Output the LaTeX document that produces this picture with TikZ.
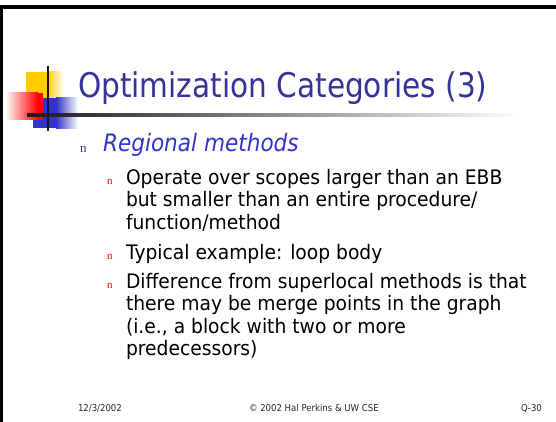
\documentclass[tikz,border=0pt]{standalone}
\usepackage{fontspec}
\setmainfont{DejaVu Sans}
\newfontfamily\titlefont[FakeStretch=0.87]{DejaVu Sans}
\newfontfamily\bodyfont[FakeStretch=0.935]{DejaVu Sans}
\newfontfamily\regfont[FakeStretch=0.90]{DejaVu Sans}
\newfontfamily\footfont[FakeStretch=0.90]{DejaVu Sans}
\newfontfamily\bulfont{Liberation Serif}
\definecolor{titleblue}{HTML}{333399}
\definecolor{regblue}{HTML}{3333CC}
\definecolor{slideyellow}{HTML}{FFCC00}
\definecolor{slidered}{HTML}{FF0000}
\definecolor{slideblue}{HTML}{3333CC}
\definecolor{foottext}{HTML}{262626}
\tikzset{
  txt/.style={inner sep=0pt, outer sep=0pt, anchor=base west},
  titletxt/.style={txt, text=titleblue, font=\titlefont\fontsize{34}{40}\selectfont},
  regtxt/.style={txt, text=regblue, font=\regfont\itshape\fontsize{24}{28}\selectfont},
  bodytxt/.style={txt, text=black, font=\bodyfont\fontsize{20}{22.4}\selectfont},
  bulone/.style={txt, text=titleblue, font=\bulfont\fontsize{13}{15}\selectfont},
  bultwo/.style={txt, text=slidered, font=\bulfont\fontsize{11}{13}\selectfont},
  foottxt/.style={txt, text=foottext, font=\footfont\fontsize{9.5}{11}\selectfont},
}
\begin{document}
\begin{tikzpicture}[x=1pt,y=-1pt]
\useasboundingbox (0,0) rectangle (556,422);
% frame
\fill[black] (0,5.3) rectangle (556,8.7);
\fill[black] (0,5.3) rectangle (3.2,422);
% decoration
\fill[slideyellow] (26,72) rectangle (47,98);
\shade[left color=slideyellow, right color=white] (47,72) rectangle (64,98);
\fill[slideblue] (33,98) rectangle (56,128.5);
\shade[left color=slideblue, right color=white] (56,98) rectangle (78,128.5);
\shade[left color=red!6, right color=slidered] (7,93) rectangle (38,120);
\fill[slidered] (38,93) rectangle (43,120);
\shade[left color=black!90, right color=white] (27,114) rectangle (522,116.2);
\fill[black!90] (47.3,66) rectangle (49.4,131);
% title
\node[titletxt] (title) at (78,98) {Optimization Categories (3)};
% level 1
\node[bulone] (b1) at (80,153) {n};
\node[regtxt] (reg) at (103,152) {Regional methods};
% level 2
\node[bultwo] (b2a) at (107,184.3) {n};
\node[bodytxt] (l1) at (126,184.3) {Operate over scopes larger than an EBB};
\node[bodytxt] (l2) at (126,206.7) {but smaller than an entire procedure/};
\node[bodytxt] (l3) at (126,229.1) {function/method};
\node[bultwo] (b2b) at (107,259.3) {n};
\node[bodytxt] (l4) at (126,259.3) {Typical example: loop body};
\node[bultwo] (b2c) at (107,288.3) {n};
\node[bodytxt] (l5) at (126,288.3) {Difference from superlocal methods is that};
\node[bodytxt] (l6) at (126,310.7) {there may be merge points in the graph};
\node[bodytxt] (l7) at (126,333.1) {(i.e., a block with two or more};
\node[bodytxt] (l8) at (126,355.5) {predecessors)};
% footer
\node[foottxt] (date) at (78,411) {12/3/2002};
\node[foottxt] (copy) at (249,411) {© 2002 Hal Perkins \& UW CSE};
\node[foottxt] (page) at (521,411) {Q-30};
\end{tikzpicture}
\end{document}
